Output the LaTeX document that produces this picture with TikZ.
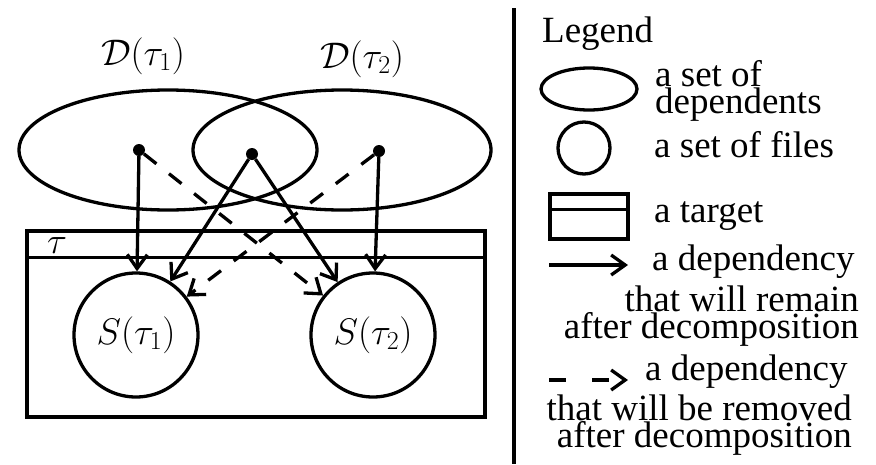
\RequirePackage{fix-cm}
\documentclass[tikz,border=0pt]{standalone}
\usepackage[no-math]{fontspec}
\setmainfont{Liberation Serif}
\usetikzlibrary{arrows.meta,shapes.geometric}
\tikzset{
  ln/.style={line width=3.3pt},
  dep/.style={ln, -{Straight Barb[length=14pt,width=20pt]}},
  rem/.style={dep, dash pattern=on 16pt off 16pt},
  dotn/.style={circle, fill, minimum size=12pt, inner sep=0pt},
  setdep/.style={ellipse, draw, ln, inner sep=0pt},
  files/.style={circle, draw, ln, inner sep=0pt, font=\fontsize{37}{37}\selectfont},
  tgtbox/.style={rectangle, draw, ln, inner sep=0pt},
  txt/.style={font=\fontsize{37}{27}\selectfont, inner sep=0pt},
}
\begin{document}
\begin{tikzpicture}[x=1pt,y=-1pt]
\useasboundingbox (0,0) rectangle (876,464);

% main diagram
\node[setdep, minimum width=298pt, minimum height=120pt] (e1) at (168,150) {};
\node[setdep, minimum width=298pt, minimum height=120pt] (e2) at (342,150) {};
\node[txt, anchor=base] (l1) at (143,65) {$\mathcal{D}(\tau_1)$};
\node[txt, anchor=base] (l2) at (362,68) {$\mathcal{D}(\tau_2)$};

\node[tgtbox, minimum width=458pt, minimum height=186pt] (tgt) at (256,324) {};
\draw[ln] ([yshift=-28pt]tgt.north west) -- ([yshift=-28pt]tgt.north east);
\node[txt] (tau) at (57,246) {$\tau$};

\node[files, minimum size=124pt] (s1) at (136,335) {$S(\tau_1)$};
\node[files, minimum size=124pt] (s2) at (373,335) {$S(\tau_2)$};

\node[dotn] (d1) at (139,150) {};
\node[dotn] (d2) at (252,154) {};
\node[dotn] (d3) at (379,151) {};

\draw[dep] (d1) -- (s1);
\draw[dep] (d3) -- (s2);
\draw[dep] (d2) -- (s1);
\draw[dep] (d2) -- (s2);
\draw[rem] (d1) -- (s2);
\draw[rem] (d3) -- (s1);

% separator
\draw[ln] (514,8) -- (514,464);

% legend
\node[txt, anchor=base west] (lg) at (542,42) {Legend};
\node[setdep, minimum width=96pt, minimum height=42pt] (lge) at (589,89) {};
\node[txt, anchor=base west, align=left] (t1) at (655,113) {a set of\\dependents};
\node[files, minimum size=52pt] (lgc) at (584,148) {};
\node[txt, anchor=base west] (t2) at (654,157) {a set of files};
\node[tgtbox, minimum width=78pt, minimum height=45pt] (lgt) at (589,216.5) {};
\draw[ln] ([yshift=-17pt]lgt.north west) -- ([yshift=-17pt]lgt.north east);
\node[txt, anchor=base west] (t3) at (654,222) {a target};

\coordinate (a1s) at (549,265);
\coordinate (a1e) at (628,265);
\draw[dep] (a1s) -- (a1e);
\node[txt, anchor=base west] (t4a) at (652,270) {a dependency};
\node[txt, anchor=base east, align=right] (t4b) at (859,338) {that will remain\\after decomposition};

\coordinate (a2s) at (549,380);
\coordinate (a2e) at (628,380);
\draw[dep, dash pattern=on 17pt off 26pt] (a2s) -- (a2e);
\node[txt, anchor=base west] (t5a) at (645,380) {a dependency};
\node[txt, anchor=base east, align=right] (t5b) at (852,447) {that will be removed\\after decomposition};
\end{tikzpicture}
\end{document}
